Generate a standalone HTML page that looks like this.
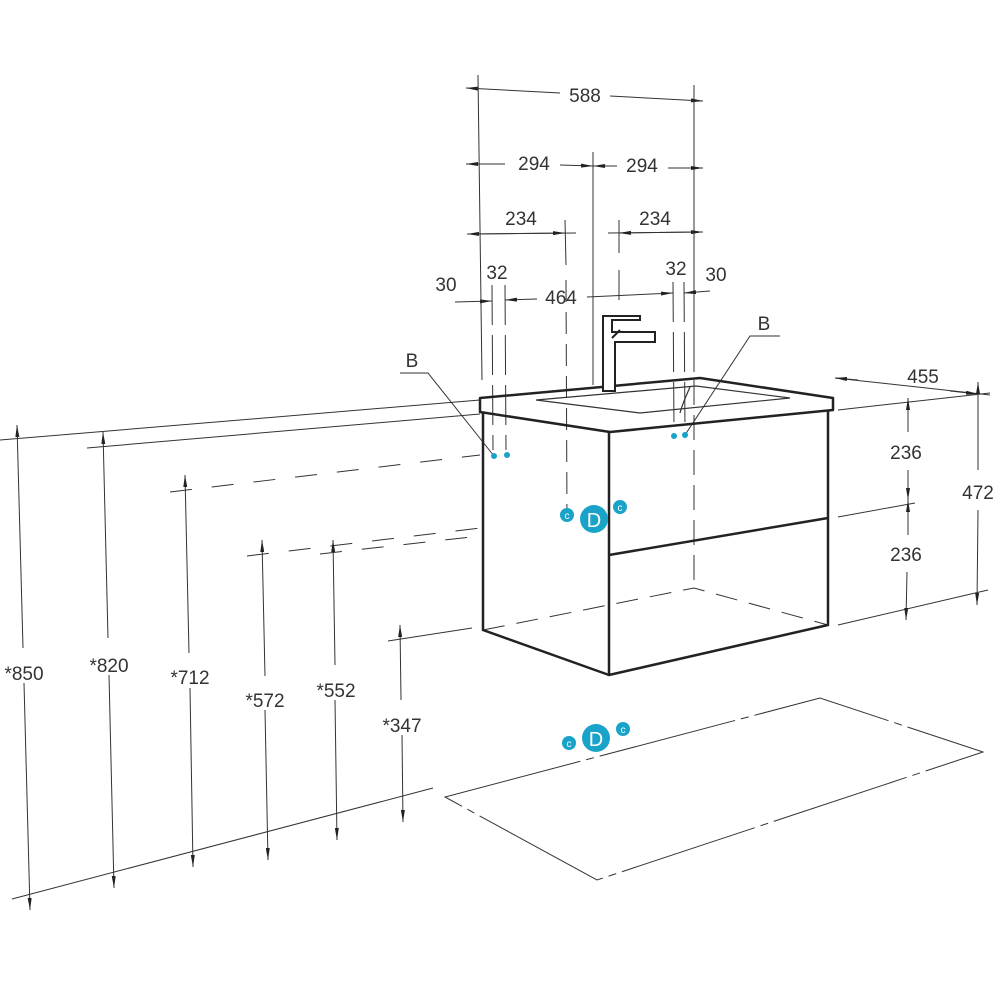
<!DOCTYPE html>
<html><head><meta charset="utf-8"><style>
html,body{margin:0;padding:0;background:#fff;}
svg{display:block;}
text{font-family:"Liberation Sans",sans-serif;font-size:19px;fill:#333;}
</style></head><body>
<svg width="1000" height="1000" viewBox="0 0 1000 1000" xmlns="http://www.w3.org/2000/svg">
<defs>
<marker id="a" viewBox="0 0 12 4" refX="12" refY="2" markerWidth="12" markerHeight="4" orient="auto-start-reverse" markerUnits="userSpaceOnUse"><path d="M0,0L12,2L0,4z" fill="#222"/></marker>
</defs>
<g stroke="#333" stroke-width="1" fill="none">
<!-- top extension lines -->
<line x1="478" y1="75" x2="482" y2="380"/>
<line x1="694" y1="85" x2="694" y2="372"/>
<line x1="593" y1="152" x2="593" y2="385"/>
<line x1="565" y1="220" x2="566" y2="265"/>
<line x1="566" y1="280" x2="567" y2="520" stroke-dasharray="22,10"/>
<line x1="619" y1="220" x2="619" y2="253"/>
<line x1="619" y1="270" x2="619" y2="300"/>
<line x1="492" y1="285" x2="493" y2="450" stroke-dasharray="40,10"/>
<line x1="505" y1="285" x2="506" y2="450" stroke-dasharray="40,10"/>
<line x1="673" y1="282" x2="674" y2="430" stroke-dasharray="40,10"/>
<line x1="684" y1="282" x2="685" y2="430" stroke-dasharray="40,10"/>
<line x1="694" y1="380" x2="694" y2="590" stroke-dasharray="25,10"/>
<!-- 588 -->
<line x1="466" y1="88" x2="560" y2="93" marker-start="url(#a)"/>
<line x1="610" y1="96" x2="703" y2="101" marker-end="url(#a)"/>
<!-- 294 -->
<line x1="466" y1="164" x2="505" y2="164" marker-start="url(#a)"/>
<line x1="560" y1="165" x2="593" y2="166" marker-end="url(#a)"/>
<line x1="593" y1="166" x2="617" y2="166" marker-start="url(#a)"/>
<line x1="668" y1="168" x2="703" y2="168" marker-end="url(#a)"/>
<!-- 234 -->
<line x1="467" y1="234" x2="576" y2="233" marker-start="url(#a)"/>
<line x1="478" y1="234" x2="565" y2="233" marker-end="url(#a)"/>
<line x1="608" y1="233" x2="703" y2="232" marker-end="url(#a)"/>
<line x1="619" y1="233" x2="694" y2="232" marker-start="url(#a)"/>
<!-- 464 -->
<line x1="455" y1="302" x2="492" y2="301" marker-end="url(#a)"/>
<line x1="505" y1="300" x2="537" y2="299" marker-start="url(#a)"/>
<line x1="587" y1="297" x2="673" y2="293" marker-end="url(#a)"/>
<line x1="684" y1="293" x2="710" y2="291" marker-start="url(#a)"/>
<!-- wall lines -->
<line x1="0" y1="440" x2="480" y2="400"/>
<line x1="87" y1="448" x2="480" y2="414"/>
<line x1="170" y1="492" x2="480" y2="455" stroke-dasharray="22,20"/>
<line x1="247" y1="556" x2="480" y2="528" stroke-dasharray="22,20"/>
<line x1="320" y1="554" x2="480" y2="536" stroke-dasharray="22,20"/>
<line x1="388" y1="641" x2="472" y2="628"/>
<line x1="12" y1="899" x2="433" y2="788"/>
<!-- left dims -->
<line x1="17" y1="425" x2="23" y2="648" marker-start="url(#a)"/>
<line x1="24" y1="683" x2="30" y2="910" marker-end="url(#a)" />
<line x1="103" y1="432" x2="108" y2="638" marker-start="url(#a)"/>
<line x1="109" y1="675" x2="114" y2="888" marker-end="url(#a)"/>
<line x1="185" y1="475" x2="189" y2="653" marker-start="url(#a)"/>
<line x1="190" y1="688" x2="193" y2="867" marker-end="url(#a)"/>
<line x1="262" y1="540" x2="265" y2="676" marker-start="url(#a)"/>
<line x1="265" y1="710" x2="268" y2="860" marker-end="url(#a)"/>
<line x1="333" y1="540" x2="335" y2="665" marker-start="url(#a)"/>
<line x1="335" y1="700" x2="337" y2="840" marker-end="url(#a)"/>
<line x1="400" y1="625" x2="401" y2="700" marker-start="url(#a)"/>
<line x1="402" y1="735" x2="403" y2="822" marker-end="url(#a)"/>
<!-- right dims -->
<line x1="835" y1="378" x2="990" y2="395"/>
<line x1="858" y1="380" x2="835" y2="378" marker-end="url(#a)"/>
<line x1="950" y1="391" x2="978" y2="394" marker-end="url(#a)"/>
<line x1="838" y1="410" x2="990" y2="393"/>
<line x1="838" y1="517" x2="915" y2="503"/>
<line x1="838" y1="625" x2="988" y2="590"/>
<line x1="908" y1="398" x2="908" y2="432" marker-start="url(#a)"/>
<line x1="908" y1="470" x2="908" y2="500" marker-end="url(#a)"/>
<line x1="908" y1="500" x2="908" y2="535" marker-start="url(#a)"/>
<line x1="907" y1="572" x2="906" y2="620" marker-end="url(#a)"/>
<line x1="978" y1="382" x2="978" y2="470" marker-start="url(#a)" />
<line x1="978" y1="510" x2="977" y2="605" marker-end="url(#a)"/>
<!-- floor rectangle -->
<path d="M445,797L820,698L983,752L597,880Z" stroke-dasharray="140,6,8,6"/>
<!-- hidden back lines of cabinet -->
<path d="M483,630L694,588L828,625" stroke-dasharray="22,12"/>
<!-- B leaders -->
<path d="M400,373H428L494,456"/>
<path d="M780,336H750L685,435"/>
</g>
<!-- cabinet -->
<g stroke="#222" stroke-width="2.5" fill="none" stroke-linejoin="round">
<path d="M480,398L700,378L833,398L833,410L610,432L480,412Z"/>
<path d="M483,412V630L609,675V432"/>
<path d="M609,675L828,625V410"/>
<path d="M609,555L828,518"/>
</g>
<g stroke="#333" stroke-width="1.2" fill="none">
<path d="M536,400L696,386L790,398L640,413Z"/>
<path d="M690,387Q682,405 680,413"/>
</g>
<!-- faucet -->
<g stroke="#222" stroke-width="2" fill="#fff">
<path d="M603,391V316H640V320H612V332H655V342H615V391Z"/>
<path d="M612,338L620,330"/>
</g>
<!-- blue markers -->
<g fill="#1aa3c8">
<circle cx="494" cy="456" r="3"/><circle cx="507" cy="455" r="3"/>
<circle cx="674" cy="436" r="3"/><circle cx="685" cy="435" r="3"/>
<circle cx="594" cy="519" r="14"/><circle cx="567" cy="515" r="7"/><circle cx="620" cy="507" r="7"/>
<circle cx="596" cy="738" r="14"/><circle cx="569" cy="743" r="7"/><circle cx="623" cy="729" r="7"/>
</g>
<g font-family="Liberation Sans" fill="#fff">
<text x="594" y="527" text-anchor="middle" style="fill:#fff;font-size:20px">D</text>
<text x="596" y="746" text-anchor="middle" style="fill:#fff;font-size:20px">D</text>
<text x="567" y="519" text-anchor="middle" style="fill:#fff;font-size:10px">c</text>
<text x="620" y="511" text-anchor="middle" style="fill:#fff;font-size:10px">c</text>
<text x="569" y="747" text-anchor="middle" style="fill:#fff;font-size:10px">c</text>
<text x="623" y="733" text-anchor="middle" style="fill:#fff;font-size:10px">c</text>
</g>
<!-- labels -->
<text x="585" y="102" text-anchor="middle">588</text>
<text x="534" y="170" text-anchor="middle">294</text>
<text x="642" y="172" text-anchor="middle">294</text>
<text x="521" y="225" text-anchor="middle">234</text>
<text x="655" y="225" text-anchor="middle">234</text>
<text x="446" y="291" text-anchor="middle">30</text>
<text x="497" y="279" text-anchor="middle">32</text>
<text x="561" y="304" text-anchor="middle">464</text>
<text x="676" y="275" text-anchor="middle">32</text>
<text x="716" y="281" text-anchor="middle">30</text>
<text x="412" y="367" text-anchor="middle">B</text>
<text x="764" y="330" text-anchor="middle">B</text>
<text x="923" y="383" text-anchor="middle">455</text>
<text x="906" y="459" text-anchor="middle">236</text>
<text x="906" y="561" text-anchor="middle">236</text>
<text x="978" y="499" text-anchor="middle">472</text>
<text x="24" y="680" text-anchor="middle">*850</text>
<text x="109" y="672" text-anchor="middle">*820</text>
<text x="190" y="684" text-anchor="middle">*712</text>
<text x="265" y="707" text-anchor="middle">*572</text>
<text x="336" y="697" text-anchor="middle">*552</text>
<text x="402" y="732" text-anchor="middle">*347</text>
</svg>
</body></html>
